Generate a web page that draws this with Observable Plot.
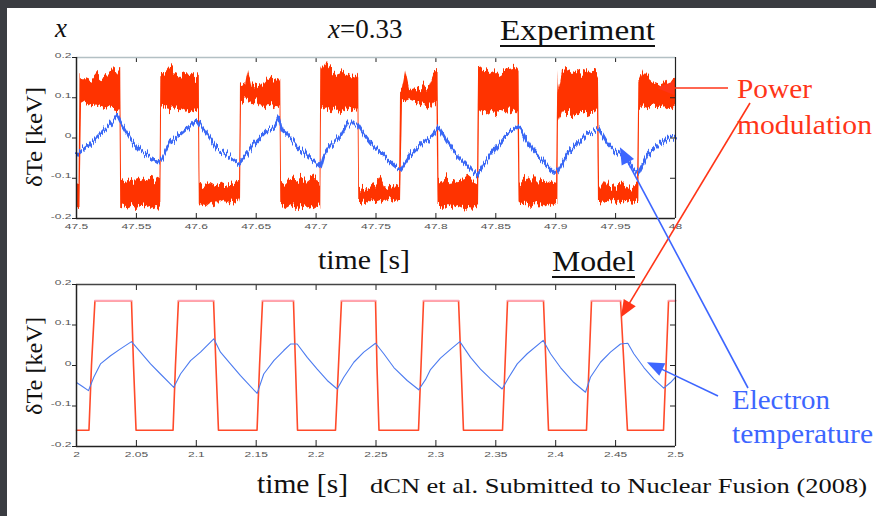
<!DOCTYPE html>
<html><head><meta charset="utf-8">
<script src="https://cdn.jsdelivr.net/npm/d3@7"></script>
<script src="https://cdn.jsdelivr.net/npm/@observablehq/plot@0.6"></script>
<style>
html,body{margin:0;padding:0;background:#3a3c41;}
#fig{position:relative;width:876px;height:516px;overflow:hidden;background:#3a3c41;}
#paper{position:absolute;left:7px;top:8px;right:0;bottom:0;background:#fff;}
#p1,#p2{position:absolute;left:0;}
#p1{top:0;} #p2{top:240px;}
#ann{position:absolute;left:0;top:0;pointer-events:none;}
#ann text{font-family:"Liberation Serif","Times New Roman",serif;}
</style></head><body>
<div id="fig"><div id="paper"></div><div id="p1"></div><div id="p2"></div>
<svg id="ann" width="876" height="516"></svg></div>
<script>
// ---------- tick values / labels ----------
const expTicks = [47.5,47.55,47.6,47.65,47.7,47.75,47.8,47.85,47.9,47.95,48];
const expTickLabels = ["47.5","47.55","47.6","47.65","47.7","47.75","47.8","47.85","47.9","47.95","48"];
const modelTicks = [2,2.05,2.1,2.15,2.2,2.25,2.3,2.35,2.4,2.45,2.5];
const modelTickLabels = ["2","2.05","2.1","2.15","2.2","2.25","2.3","2.35","2.4","2.45","2.5"];
const yTicks = [-0.2,-0.1,0,0.1,0.2];
const yTickLabels = ["-0.2","-0.1","0","0.1","0.2"];

// ---------- Experiment: power modulation (noise envelope, keV) ----------
const expPowerTime = [47.5,47.5021,47.5029,
 47.5042,47.5083,47.5125,47.5167,47.5209,47.5250,47.5284,47.5309,47.5342,47.5363,47.5369,
 47.5376,47.5417,47.5459,47.5501,47.5543,47.5584,47.5626,47.5668,47.5697,47.5704,
 47.5710,47.5751,47.5785,47.5826,47.5868,47.5910,47.5952,47.5993,47.6018,47.6025,
 47.6031,47.6077,47.6119,47.6160,47.6202,47.6244,47.6285,47.6327,47.6361,47.6369,
 47.6377,47.6411,47.6436,47.6469,47.6511,47.6553,47.6594,47.6636,47.6669,47.6699,47.6705,
 47.6711,47.6753,47.6795,47.6836,47.6878,47.6920,47.6962,47.7003,47.7033,47.7039,
 47.7045,47.7087,47.7129,47.7170,47.7212,47.7254,47.7295,47.7337,47.7350,47.7356,
 47.7362,47.7412,47.7454,47.7496,47.7538,47.7579,47.7621,47.7663,47.7696,47.7705,
 47.7721,47.7746,47.7780,47.7821,47.7863,47.7905,47.7947,47.7980,47.8009,47.8018,
 47.8026,47.8063,47.8105,47.8147,47.8189,47.8230,47.8272,47.8314,47.8347,47.8356,
 47.8364,47.8406,47.8447,47.8489,47.8531,47.8573,47.8614,47.8656,47.8685,47.8694,
 47.8702,47.8748,47.8790,47.8831,47.8873,47.8915,47.8957,47.9007,47.9018,
 47.9023,47.9057,47.9098,47.9140,47.9182,47.9224,47.9265,47.9307,47.9349,47.9357,
 47.9366,47.9407,47.9449,47.9491,47.9533,47.9574,47.9616,47.9658,47.9683,47.9694,
 47.9700,47.9733,47.9775,47.9816,47.9858,47.9900,47.9942,47.9975,48.0];
const expPowerLow = [-0.165,-0.17,-0.17,
 0.09,0.085,0.08,0.082,0.078,0.075,0.072,0.07,0.068,0.07,-0.17,
 -0.17,-0.175,-0.17,-0.175,-0.17,-0.168,-0.175,-0.17,-0.172,-0.17,
 0.08,0.073,0.07,0.075,0.065,0.07,0.06,0.068,0.07,-0.17,
 -0.165,-0.17,-0.16,-0.168,-0.155,-0.162,-0.158,-0.163,-0.15,-0.16,
 0.09,0.095,0.09,0.085,0.09,0.075,0.08,0.08,0.075,0.08,-0.17,
 -0.17,-0.175,-0.168,-0.175,-0.17,-0.175,-0.17,-0.175,-0.17,-0.175,
 0.08,0.07,0.065,0.072,0.063,0.07,0.065,0.07,0.075,-0.16,
 -0.16,-0.163,-0.155,-0.16,-0.155,-0.16,-0.15,-0.158,-0.155,-0.155,
 0.09,0.09,0.095,0.09,0.085,0.08,0.075,0.09,0.08,-0.17,
 -0.17,-0.175,-0.168,-0.175,-0.17,-0.175,-0.17,-0.172,-0.168,-0.17,
 0.07,0.06,0.065,0.056,0.065,0.06,0.07,0.063,0.07,-0.165,
 -0.16,-0.165,-0.17,-0.16,-0.172,-0.165,-0.17,-0.16,-0.16,
 0.04,0.07,0.06,0.055,0.06,0.065,0.055,0.06,0.07,-0.16,
 -0.16,-0.163,-0.155,-0.158,-0.163,-0.155,-0.16,-0.163,-0.158,-0.16,
 0.07,0.08,0.075,0.08,0.075,0.08,0.07,0.075,0.08];
const expPowerHigh = [-0.115,-0.11,0.15,
 0.15,0.15,0.145,0.16,0.15,0.155,0.165,0.176,0.16,0.17,0.17,
 -0.10,-0.105,-0.10,-0.11,-0.105,-0.10,-0.105,-0.11,-0.105,0.16,
 0.155,0.16,0.173,0.16,0.155,0.16,0.158,0.15,0.155,0.15,
 -0.115,-0.12,-0.113,-0.12,-0.113,-0.12,-0.118,-0.115,-0.11,0.13,
 0.125,0.13,0.173,0.13,0.125,0.135,0.15,0.145,0.15,0.145,0.14,
 -0.10,-0.11,-0.10,-0.105,-0.10,-0.11,-0.10,-0.105,-0.11,0.17,
 0.165,0.185,0.17,0.16,0.165,0.155,0.16,0.155,0.15,0.15,
 -0.125,-0.13,-0.125,-0.12,-0.10,-0.125,-0.12,-0.125,-0.12,0.12,
 0.125,0.168,0.12,0.125,0.12,0.13,0.125,0.15,0.16,0.16,
 -0.10,-0.105,-0.10,-0.11,-0.10,-0.105,-0.10,-0.11,-0.105,0.17,
 0.17,0.173,0.165,0.17,0.16,0.168,0.17,0.173,0.165,0.16,
 -0.11,-0.10,-0.11,-0.098,-0.11,-0.105,-0.11,-0.115,0.16,
 0.11,0.165,0.168,0.16,0.165,0.16,0.168,0.162,0.165,0.16,
 -0.12,-0.10,-0.12,-0.125,-0.115,-0.12,-0.125,-0.118,-0.12,0.14,
 0.14,0.163,0.15,0.14,0.135,0.14,0.13,0.145,0.14];

// ---------- Experiment: electron temperature (keV) ----------
const expTeTime = [47.5,47.5117,47.5228,47.5284,47.5340,47.5367,47.5451,47.5534,47.5618,47.5687,
 47.5715,47.5785,47.5868,47.5937,47.6008,47.6049,47.6119,47.6174,47.6202,47.6285,
 47.6355,47.6425,47.6480,47.6592,47.6647,47.6689,47.6717,47.6759,47.6842,47.6926,
 47.7037,47.7064,47.7120,47.7204,47.7260,47.7343,47.7398,47.7496,47.7565,47.7649,
 47.7705,47.7732,47.7788,47.7899,47.7969,47.8024,47.8094,47.8178,47.8261,47.8345,
 47.8428,47.8512,47.8595,47.8679,47.8715,47.8765,47.8817,47.8901,47.8984,47.9013,
 47.9096,47.9180,47.9263,47.9360,47.9430,47.9513,47.9569,47.9652,47.9694,47.9764,
 47.9847,47.9931,48.0];
const expTeValue = [-0.043,-0.014,0.019,0.035,0.056,0.039,-0.002,-0.031,-0.048,-0.06,
 -0.052,-0.01,0.01,0.027,0.048,0.027,-0.002,-0.027,-0.031,-0.048,
 -0.064,-0.039,-0.014,0.019,0.027,0.052,0.019,0.01,-0.019,-0.043,
 -0.072,-0.043,-0.019,0.006,0.035,0.035,0.01,-0.027,-0.043,-0.068,
 -0.081,-0.068,-0.043,-0.01,0.006,0.027,-0.01,-0.043,-0.068,-0.092,
 -0.052,-0.019,0.01,0.027,0.019,-0.01,-0.035,-0.06,-0.085,-0.085,
 -0.043,-0.014,0.01,0.023,-0.014,-0.039,-0.048,-0.077,-0.085,-0.043,
 -0.019,0.002,0.002];

// ---------- Model: power modulation (keV) ----------
const modelPowerTime = [2.0,2.0104,2.0125,2.0154,2.0459,2.0476,2.0497,
 2.0806,2.0826,2.0851,2.1144,2.1164,2.1185,
 2.1507,2.1528,2.1553,2.1811,2.1828,2.1845,
 2.2162,2.2187,2.2212,2.2496,2.2508,2.2525,
 2.2855,2.2876,2.2897,2.3189,2.3210,2.3230,
 2.3556,2.3577,2.3598,2.3898,2.3919,2.3940,
 2.4257,2.4278,2.4299,2.4541,2.4570,2.4599,
 2.4900,2.4921,2.4942,2.5];
const modelPowerValue = [-0.16,-0.16,0,0.16,0.16,0,-0.16,
 -0.16,0,0.16,0.16,0,-0.16,
 -0.16,0,0.16,0.16,0,-0.16,
 -0.16,0,0.16,0.16,0,-0.16,
 -0.16,0,0.16,0.16,0,-0.16,
 -0.16,0,0.16,0.16,0,-0.16,
 -0.16,0,0.16,0.16,0,-0.16,
 -0.16,0,0.16,0.16];

// ---------- Model: electron temperature (keV) ----------
const modelTeTime = [2.0,2.0050,2.0100,2.0144,2.0200,2.0284,2.0367,2.0459,2.0534,2.0618,
 2.0701,2.0812,2.0868,2.0952,2.1035,2.1146,2.1202,2.1285,2.1369,2.1508,
 2.1563,2.1647,2.1730,2.1786,2.1842,2.1926,2.2009,2.2093,2.2176,2.2231,
 2.2315,2.2398,2.2496,2.2565,2.2649,2.2760,2.2857,2.2913,2.2955,2.3038,
 2.3122,2.3200,2.3289,2.3372,2.3456,2.3553,2.3609,2.3679,2.3762,2.3896,
 2.3957,2.4040,2.4151,2.4249,2.4290,2.4374,2.4457,2.4541,2.4602,2.4652,
 2.4736,2.4818,2.4902,2.4958,2.5];
const modelTeValue = [-0.042,-0.052,-0.062,-0.029,0.004,0.024,0.041,0.059,0.033,0.004,
 -0.021,-0.054,-0.021,0.012,0.033,0.066,0.033,0.004,-0.025,-0.069,
 -0.021,0.012,0.037,0.053,0.053,0.02,-0.009,-0.037,-0.058,-0.029,
 0.008,0.033,0.055,0.029,-0.005,-0.037,-0.06,-0.035,-0.01,0.018,
 0.04,0.059,0.02,-0.009,-0.033,-0.058,-0.029,0.004,0.029,0.062,
 0.029,-0.005,-0.042,-0.066,-0.029,0.008,0.033,0.053,0.055,0.029,
 -0.005,-0.033,-0.056,-0.042,-0.029];

// ---------- annotation targets (data coordinates) ----------
const powerArrowExp = {t: 47.985, v: 0.123};
const powerArrowModel = {t: 2.4549, v: 0.118};
const teArrowExp = {t: 47.954, v: -0.024};
const teArrowModel = {t: 2.4766, v: 0.007};

// ---------- tables ----------
const expPower = expPowerTime.map((t,i)=>({t, lo: expPowerLow[i], hi: expPowerHigh[i]}));
const expTe = expTeTime.map((t,i)=>({t, v: expTeValue[i]}));
const modelPower = modelPowerTime.map((t,i)=>({t, v: modelPowerValue[i]}));
const modelTe = modelTeTime.map((t,i)=>({t, v: modelTeValue[i]}));

const RED = "#ff3300", BLUE = "#3a68f5";
const H = 240, FW = 599, FH = 161;

function frameMarks(ticks, labels, xmin, xmax, topColor, padBottom) {
  const fmtX = d => labels[ticks.indexOf(d)];
  const fmtY = d => yTickLabels[yTicks.indexOf(d)];
  return [
    Plot.tickX(ticks, {x: d=>d, insetTop: FH-5, stroke: "#222"}),
    Plot.tickX(ticks, {x: d=>d, insetBottom: FH-5, stroke: "#222"}),
    Plot.tickY(yTicks, {y: d=>d, insetLeft: FW-5, stroke: "#222"}),
    Plot.ruleY([0.2], {stroke: topColor, strokeWidth: 1.5}),
    Plot.ruleY([-0.2], {stroke: "#222", strokeWidth: 1.5}),
    Plot.ruleX([xmin], {stroke: "#222", strokeWidth: 1.5}),
    Plot.ruleX([xmax], {stroke: "#222", strokeWidth: 1.2}),
    Plot.axisY({ticks: yTicks, tickSize: 4, tickPadding: 1, tickFormat: fmtY, label: null, fontSize: 8, fill: "#555", stroke: "#222"}),
    Plot.axisX({ticks, tickSize: 0, tickPadding: padBottom, tickFormat: fmtX, label: null, fontSize: 8, fill: "#555"})
  ];
}

const common = {
  width: 876, height: H, marginLeft: 76, marginRight: 201,
  y: {domain: [-0.2, 0.2]},
  style: {background: "transparent", fontFamily: "'Liberation Sans', Arial, sans-serif", overflow: "visible"}
};

const plot1 = Plot.plot({
  ...common, marginTop: 57, marginBottom: 22,
  x: {domain: [47.5, 48]},
  marks: [
    Plot.areaY(expPower, {x: "t", y1: "lo", y2: "hi", fill: RED}),
    Plot.line(expTe, {x: "t", y: "v", stroke: BLUE, strokeWidth: 3}),
    ...frameMarks(expTicks, expTickLabels, 47.5, 48, "#b3c0c4", 10)
  ]
});
const plot2 = Plot.plot({
  ...common, marginTop: 44, marginBottom: 34,
  x: {domain: [2, 2.5]},
  marks: [
    Plot.line(modelPower, {x: "t", y: "v", stroke: "#ff4a2a", strokeWidth: 1.6}),
    Plot.line(modelPower, {x: "t", y: d => d.v >= 0.16 ? d.v : NaN, stroke: "#ffa3b6", strokeWidth: 1.8}),
    Plot.line(modelTe, {x: "t", y: "v", stroke: "#4c7bf0", strokeWidth: 1.1}),
    ...frameMarks(modelTicks, modelTickLabels, 2, 2.5, "#444", 10)
  ]
});
document.getElementById("p1").appendChild(plot1);
document.getElementById("p2").appendChild(plot2);

// stretch tick labels horizontally (the original labels are wide & flat)
function stretch(svg, s) {
  svg.querySelectorAll('g[aria-label$="tick label"] text').forEach(t => {
    const x = +t.getAttribute("x") || 0, y = +t.getAttribute("y") || 0;
    const tr = t.getAttribute("transform") || "";
    t.setAttribute("x", 0); t.setAttribute("y", 0);
    t.setAttribute("transform", `${tr} translate(${x},${y}) scale(${s},1)`);
  });
}
stretch(plot1, 1.5); stretch(plot2, 1.5);

// noise texture filters for the measured traces
function addJitter(svg, id, freq, scale, seed, oct) {
  const ns = "http://www.w3.org/2000/svg";
  let defs = svg.querySelector("defs");
  if (!defs) { defs = document.createElementNS(ns, "defs"); svg.insertBefore(defs, svg.firstChild); }
  defs.insertAdjacentHTML("beforeend",
    `<filter id="${id}" filterUnits="userSpaceOnUse" x="0" y="0" width="876" height="${H}" color-interpolation-filters="sRGB">
      <feTurbulence type="fractalNoise" baseFrequency="${freq}" numOctaves="${oct}" seed="${seed}" result="n"/>
      <feColorMatrix in="n" type="matrix" values="0 0 0 0 0.5  0 1 0 0 0  0 0 1 0 0  0 0 0 0 1" result="m"/>
      <feDisplacementMap in="SourceGraphic" in2="m" scale="${scale}" xChannelSelector="R" yChannelSelector="G"/>
    </filter>`);
}
try {
  addJitter(plot1, "jr", "0.45 0.02", 17, 4, 3);
  addJitter(plot1, "jb", "0.7 0.03", 13, 9, 2);
  const areaG = plot1.querySelector('g[aria-label="area"]');
  const lineG = plot1.querySelector('g[aria-label="line"]');
  if (areaG) areaG.setAttribute("filter", "url(#jr)");
  if (lineG) lineG.setAttribute("filter", "url(#jb)");
} catch (e) { console.log(e); }

// ---------- annotation overlay ----------
const ann = d3.select("#ann");
const sx1 = plot1.scale("x"), sy1 = plot1.scale("y"), sx2 = plot2.scale("x"), sy2 = plot2.scale("y");
const top2 = 240;
function txt(s, x, y, size, len, color = "#111", extra = {}) {
  const t = ann.append("text").attr("x", x).attr("y", y)
    .style("font-family", "'Liberation Serif', 'Times New Roman', serif").attr("font-size", size)
    .attr("fill", color).text(s);
  if (len) t.attr("textLength", len).attr("lengthAdjust", "spacingAndGlyphs");
  for (const k in extra) t.attr(k, extra[k]);
  return t;
}
function arrow(x1, y1, x2, y2, color, len = 16, wid = 12) {
  const dx = x2 - x1, dy = y2 - y1, L = Math.hypot(dx, dy), ux = dx / L, uy = dy / L;
  const bx = x2 - ux * len, by = y2 - uy * len;
  ann.append("line").attr("x1", x1).attr("y1", y1).attr("x2", bx + ux * 2).attr("y2", by + uy * 2)
    .attr("stroke", color).attr("stroke-width", 1.6);
  ann.append("polygon").attr("fill", color)
    .attr("points", `${x2},${y2} ${bx - uy * wid / 2},${by + ux * wid / 2} ${bx + uy * wid / 2},${by - ux * wid / 2}`);
}

// titles & labels
const tx = txt("", 55, 37, 27, null); tx.append("tspan").attr("font-style", "italic").text("x");
const t033 = txt("", 328, 38, 27, null);
t033.append("tspan").attr("font-style", "italic").text("x");
t033.append("tspan").text("=0.33");
txt("Experiment", 500, 40, 29, 155);
ann.append("rect").attr("x", 500).attr("y", 45).attr("width", 155).attr("height", 2).attr("fill", "#111");
txt("time [s]", 318, 269, 27, 92);
txt("Model", 552, 271, 30, 83);
ann.append("rect").attr("x", 552).attr("y", 276).attr("width", 83).attr("height", 2).attr("fill", "#111");
txt("time [s]", 257, 493, 27, 91);
txt("dCN et al. Submitted to Nuclear Fusion (2008)", 370, 493, 22, 497);
txt("δTe [keV]", 0, 0, 24, 100, "#111", {transform: "translate(42,137) rotate(-90)", "text-anchor": "middle"});
txt("δTe [keV]", 0, 0, 24, 98, "#111", {transform: "translate(42,366) rotate(-90)", "text-anchor": "middle"});

const RED_T = "#ff3518", BLUE_T = "#3d66ff";
txt("Power", 737, 98, 27, 75, RED_T);
txt("modulation", 737, 134, 27, 135, RED_T);
txt("Electron", 732, 409, 27, 98, BLUE_T);
txt("temperature", 732, 443, 27, 141, BLUE_T);

arrow(728, 88, sx1.apply(powerArrowExp.t), sy1.apply(powerArrowExp.v), RED_T, 17, 14);
arrow(750, 103, sx2.apply(powerArrowModel.t), sy2.apply(powerArrowModel.v) + top2, RED_T, 17, 14);
arrow(748, 388, sx1.apply(teArrowExp.t), sy1.apply(teArrowExp.v), BLUE_T, 17, 14);
arrow(718, 396, sx2.apply(teArrowModel.t), sy2.apply(teArrowModel.v) + top2, BLUE_T, 17, 14);
</script>
</body></html>
